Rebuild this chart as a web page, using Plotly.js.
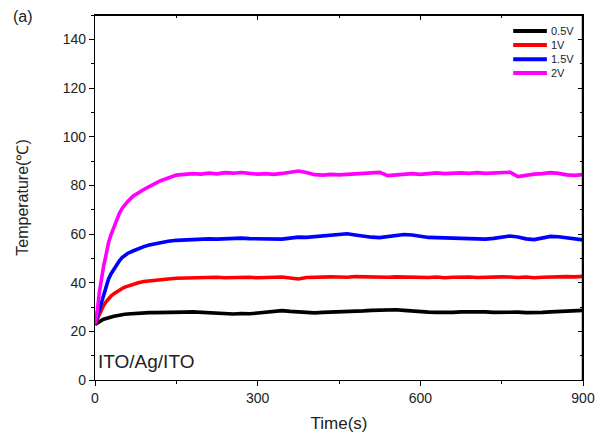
<!DOCTYPE html>
<html>
<head>
<meta charset="utf-8">
<script src="https://cdn.plot.ly/plotly-3.0.1.min.js"></script>
<style>html,body{margin:0;padding:0;background:#fff;}#chart{width:604px;height:436px;}</style>
</head>
<body>
<div id="chart"></div>
<script>
// Time (s)
const time = [0,4,8,12,16,20,25,30,35,40,45,50,55,60,70,80,90,100,110,120,135,150,
  165,180,195,210,225,240,255,270,285,300,315,330,345,360,375,390,405,420,435,450,
  465,480,495,510,525,540,555,570,585,600,615,630,645,660,675,690,705,720,735,750,
  765,780,795,810,825,840,855,870,885,900];

// Temperature (°C) per applied voltage
const v05 = [22.8,23.5,24.1,24.5,25.0,25.3,25.6,25.9,26.2,26.4,26.7,26.9,27.0,27.1,27.3,27.5,27.6,27.7,27.7,27.8,27.9,27.8,
  27.9,28.0,27.8,27.6,27.4,27.2,27.1,27.3,27.2,27.5,27.9,28.3,28.5,28.2,28.0,27.7,27.6,27.8,27.9,27.8,
  27.9,28.1,28.4,28.6,28.7,28.8,28.9,28.6,28.3,28.1,27.9,27.8,27.7,27.8,28.0,28.1,28.2,28.0,27.8,27.9,
  28.1,27.9,27.7,27.6,27.8,28.0,28.2,28.3,28.4,28.6];
const v10 = [23.0,25.0,27.0,29.0,30.7,32.0,33.5,34.6,35.5,36.3,37.0,37.6,38.2,38.6,39.3,40.0,40.5,40.8,41.0,41.2,41.5,41.8,
  41.9,42.0,41.8,42.1,42.2,42.0,42.1,42.3,42.2,42.0,42.1,42.4,42.3,41.9,41.5,42.1,42.3,42.2,42.4,42.3,
  42.2,42.5,42.4,42.3,42.5,42.2,42.4,42.3,42.5,42.4,42.1,42.3,42.0,42.2,42.4,42.3,42.1,42.3,42.2,42.4,
  42.3,42.1,42.3,42.0,42.2,42.4,42.3,42.5,42.4,42.6];
const v15 = [23.0,26.0,29.5,33.0,36.0,38.7,41.5,43.8,45.7,47.5,49.0,50.3,51.3,52.0,53.0,54.0,54.8,55.5,56.0,56.5,57.0,57.4,
  57.6,57.8,57.7,58.0,57.9,58.1,58.0,58.3,58.1,58.0,57.9,57.8,57.9,58.3,58.7,58.6,58.9,59.2,59.4,59.7,
  60.1,59.6,59.0,58.7,58.5,58.9,59.4,59.8,59.6,59.1,58.6,58.5,58.4,58.2,57.9,57.8,58.0,57.9,58.2,58.8,
  59.2,58.8,58.0,57.7,58.3,59.0,58.9,58.5,58.2,57.6];
const v20 = [23.0,28.0,36.0,42.0,47.0,51.0,56.5,60.0,63.0,66.0,68.5,70.5,72.0,73.3,75.5,77.0,78.3,79.5,80.7,81.8,83.0,84.2,
  84.5,84.8,84.6,85.0,84.7,85.2,85.0,85.3,84.9,84.6,84.8,84.5,84.9,85.4,85.9,85.3,84.4,84.2,84.5,84.3,
  84.5,84.7,85.0,85.2,85.3,84.0,84.2,84.6,84.8,84.5,84.9,85.1,84.8,85.0,85.1,84.9,85.2,84.9,85.1,85.3,
  85.4,83.6,84.2,84.6,84.8,85.2,84.9,84.3,84.1,84.4];

const names = ['0.5V','1V','1.5V','2V'];
const series = [v05, v10, v15, v20];
const colors = ['#000000','#ff0000','#0000ff','#ff00ff'];

const traces = series.map((s,i)=>({
  x: time, y: s, name: names[i], type:'scatter', mode:'lines',
  line:{color:colors[i], width:3.6}
}));
// invisible copy of one point so the mirrored top/right axes are drawn
traces.push({x:[time[0]], y:[v05[0]], xaxis:'x2', yaxis:'y2', type:'scatter', mode:'markers',
  marker:{size:1, opacity:0}});

const FONT = 'Liberation Sans, Arial, sans-serif';
const axisCommon = {showgrid:false, zeroline:false, showline:true, linecolor:'#000', linewidth:1.3,
  tickcolor:'#000', ticklen:5};

const xCommon = {range:[0,900], dtick:300};
const yCommon = {range:[0,150], dtick:20};

// hand-drawn legend + plot frame (paper coordinates)
const legX0 = 0.857, legX1 = 0.926, legTextX = 0.930;
const legY = [0.956, 0.918, 0.879, 0.841];
const shapes = names.map((n,i)=>({
  type:'line', xref:'paper', yref:'paper', x0:legX0, x1:legX1, y0:legY[i], y1:legY[i],
  line:{color:colors[i], width:4}
})).concat([
  {type:'line', xref:'paper', yref:'paper', x0:0, x1:1.001, y0:0.999, y1:0.999, line:{color:'#000', width:1.5}},
  {type:'line', xref:'paper', yref:'paper', x0:0.999, x1:0.999, y0:0, y1:1, line:{color:'#000', width:1.5}}
]);
const legAnn = names.map((n,i)=>({
  text:n, xref:'paper', yref:'paper', x:legTextX, y:legY[i], xanchor:'left', yanchor:'middle',
  showarrow:false, font:{size:11, family:FONT, color:'#222'}
}));

const layout = {
  width:604, height:436,
  margin:{l:95, r:21, t:15, b:56},
  paper_bgcolor:'#fff', plot_bgcolor:'#fff',
  font:{family:FONT, color:'#222'},
  showlegend:false,
  xaxis:Object.assign({}, axisCommon, xCommon, {
    ticks:'outside', mirror:true,
    minor:{dtick:150, ticks:'outside', ticklen:3},
    tickfont:{size:14, family:FONT, color:'#222'},
    title:{text:'Time(s)', font:{size:17, family:FONT, color:'#222'}, standoff:12}
  }),
  yaxis:Object.assign({}, axisCommon, yCommon, {
    ticks:'outside', mirror:true,
    minor:{dtick:10, ticks:'outside', ticklen:3},
    tickfont:{size:14, family:FONT, color:'#222'},
    title:{text:'Temperature(℃)', font:{size:16, family:FONT, color:'#222'}, standoff:30}
  }),
  xaxis2:Object.assign({}, axisCommon, xCommon, {
    overlaying:'x', side:'top', showticklabels:false, ticks:'inside',
    minor:{dtick:150, ticks:'inside', ticklen:3}
  }),
  yaxis2:Object.assign({}, axisCommon, yCommon, {
    overlaying:'y', side:'right', showticklabels:false, ticks:'inside',
    minor:{dtick:10, ticks:'inside', ticklen:3}
  }),
  shapes: shapes,
  annotations:[
    {text:'(a)', xref:'paper', yref:'paper', x:-0.172, y:0.995, xanchor:'left', yanchor:'middle',
     showarrow:false, font:{size:16, family:FONT, color:'#222'}},
    {text:'ITO/Ag/ITO', xref:'paper', yref:'paper', x:0.003, y:0.05, xanchor:'left', yanchor:'middle',
     showarrow:false, font:{size:19, family:FONT, color:'#222'}}
  ].concat(legAnn)
};

Plotly.newPlot('chart', traces, layout, {displayModeBar:false});
</script>
</body>
</html>
